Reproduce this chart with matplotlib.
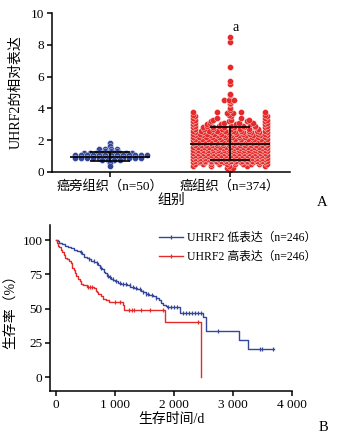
import matplotlib
matplotlib.use("Agg")
import matplotlib.pyplot as plt
import numpy as np
from matplotlib.lines import Line2D

plt.rcParams["font.family"] = ["Liberation Serif", "Noto Sans CJK SC"]

# ---- panel A: relative UHRF2 expression (dot levels and how many dots sit on each) ----
group_labels = ["癌旁组织（n=50）", "癌组织（n=374）"]
normal_levels = [1.85, 1.62, 1.46, 1.3, 1.2, 1.05, 0.9, 0.78, 0.65, 0.57, 0.38]
normal_counts = [1, 1, 4, 3, 9, 13, 12, 4, 1, 1, 1]
tumor_levels = [0.15, 0.25, 0.4, 0.5, 0.6, 0.7, 0.8, 0.9, 1.0, 1.1, 1.2, 1.3, 1.4,
                1.5, 1.6, 1.7, 1.8, 1.9, 2.0, 2.1, 2.2, 2.3, 2.4, 2.5, 2.6, 2.7,
                2.8, 2.9, 3.0, 3.1, 3.2, 3.3, 3.4, 3.5, 3.6, 3.7, 3.8, 3.9,
                4.04, 4.29, 4.37, 4.44, 4.53, 4.84, 4.9, 5.54, 5.73, 6.59, 8.17, 8.48]
tumor_counts = [1, 2, 5, 10, 13, 15, 15, 15, 15, 15, 15, 15, 15,
                14, 14, 14, 13, 13, 13, 12, 12, 11, 11, 10, 10, 9,
                8, 7, 6, 6, 5, 5, 4, 3, 3, 2, 4, 1,
                1, 1, 1, 1, 3, 1, 1, 1, 1, 1, 1, 1]
group_means = [0.97, 1.79]
group_sds = [0.26, 1.05]

# ---- panel B: Kaplan-Meier curves ----
low_time = [0, 30, 60, 100, 150, 200, 260, 300, 350, 400, 440, 480, 520, 560, 600,
            650, 690, 720, 750, 780, 810, 840, 870, 900, 940, 970, 1000, 1050, 1100,
            1200, 1260, 1320, 1380, 1440, 1480, 1520, 1580, 1640, 1700, 1740, 1780,
            1820, 1860, 1880, 2100, 2490, 2540, 3100, 3250, 3700]
low_surv = [100, 99, 98, 97, 96, 95, 94, 93, 92, 91, 90, 88, 87, 86, 85,
            84, 83, 82, 80, 79, 77, 76, 74, 73, 72, 71, 70, 69, 68,
            67, 66, 65, 64, 63, 62, 61, 60, 59, 58, 56, 54,
            53, 52, 51, 47, 44, 34, 27, 20.5, 20.5]
low_censor = [420, 560, 640, 700, 760, 880, 920, 960, 1010, 1080, 1130, 1190, 1250,
              1300, 1350, 1420, 1480, 1530, 1560, 1620, 1700, 1900, 1950, 2000, 2050,
              2150, 2200, 2260, 2300, 2350, 2400, 2450, 2750, 3450, 3490, 3680]
high_time = [0, 20, 40, 60, 80, 100, 130, 160, 190, 230, 260, 280, 300, 320, 340,
             370, 400, 430, 460, 520, 650, 680, 700, 720, 760, 800, 850, 900, 1130,
             1150, 1850, 2460]
high_surv = [100, 98, 96, 95, 93, 91, 89, 87, 86, 85, 83, 80, 78, 76, 74,
             72, 70, 68, 67, 66, 65, 63, 62, 61, 59, 57, 56, 55, 53,
             49, 40, 0]
high_censor = [540, 580, 620, 1000, 1090, 1230, 1290, 1330, 1440, 1590, 1820, 2400]
legend_labels = ["UHRF2 低表达（n=246）", "UHRF2 高表达（n=246）"]

BLUE = "#34479a"
RED = "#e52a2a"


def row_layout(center, levels, counts, dx, spread_upto=None, max_n=15):
    # rows of dots; rows below spread_upto are stretched to the full block width
    xs, ys = [], []
    for i, (lv, n) in enumerate(zip(levels, counts)):
        step = dx
        if spread_upto is not None and lv < spread_upto and n >= 3:
            step = dx * (max_n - 1) / (n - 1)
        shift = dx * 0.25 * (1 if i % 2 else -1) if n >= 3 else 0.0
        off = (np.arange(n) - (n - 1) / 2.0) * step
        xs.extend(center + off + shift)
        ys.extend([lv] * n)
    return np.array(xs), np.array(ys)


def surv_at(times, surv, t):
    idx = np.searchsorted(times, t, side="right") - 1
    return np.array(surv)[idx]


def style_axes(ax):
    for side in ["top", "right"]:
        ax.spines[side].set_visible(False)
    for side in ["left", "bottom"]:
        ax.spines[side].set_linewidth(1.1)
    ax.tick_params(direction="out", length=3.5, width=1.1, labelsize=9.5, pad=2)


fig = plt.figure(figsize=(3.42, 4.40), dpi=100)

# panel A
axA = fig.add_axes([52 / 342, 1 - 172 / 440, 238 / 342, 159 / 440])
panels = [(normal_levels, normal_counts, BLUE, 0.05, None),
          (tumor_levels, tumor_counts, RED, 0.043, 4.0)]
for gi, (lv, ct, col, dx, spread) in enumerate(panels):
    xs, ys = row_layout(gi, lv, ct, dx, spread_upto=spread)
    axA.scatter(xs, ys, s=19, color=col, edgecolors="white", linewidths=0.25, zorder=2)
    m, sd = group_means[gi], group_sds[gi]
    axA.hlines(m, gi - 0.33, gi + 0.33, color="black", lw=1.2, zorder=3)
    axA.hlines([m - sd, m + sd], gi - 0.17, gi + 0.17, color="black", lw=1.2, zorder=3)
    axA.vlines(gi, m - sd, m + sd, color="black", lw=1.2, zorder=3)
axA.text(1.05, 9.1, "a", ha="center", va="center", fontsize=10)
axA.set_xlim(-0.483, 1.5)
axA.set_ylim(0, 10)
axA.set_yticks([0, 2, 4, 6, 8, 10])
axA.set_xticks([0, 1])
axA.set_xticklabels(group_labels)
axA.set_ylabel("UHRF2的相对表达", fontsize=10, labelpad=6)
axA.set_xlabel("组别", fontsize=10, labelpad=1)
style_axes(axA)
axA.tick_params(axis="x", labelsize=9.5)

# panel B
axB = fig.add_axes([50 / 342, 1 - 391 / 440, 242 / 342, 166 / 440])
for t, s, cens, col in [(low_time, low_surv, low_censor, BLUE),
                        (high_time, high_surv, high_censor, RED)]:
    axB.step(t, s, where="post", color=col, lw=1.0)
    axB.plot(cens, surv_at(t, s, cens), ls="none", marker="|", ms=3.5,
             mew=0.9, color=col)
axB.set_xlim(-100, 4000)
axB.set_ylim(-10, 111)
axB.set_xticks([0, 1000, 2000, 3000, 4000])
axB.set_xticklabels(["0", "1 000", "2 000", "3 000", "4 000"])
axB.set_yticks([0, 25, 50, 75, 100])
axB.set_xlabel("生存时间/d", fontsize=10, labelpad=2)
axB.set_ylabel("生存率（%）", fontsize=10, labelpad=4)
style_axes(axB)
handles = [Line2D([], [], color=BLUE, lw=1.0, marker="|", ms=3.5, mew=0.9),
           Line2D([], [], color=RED, lw=1.0, marker="|", ms=3.5, mew=0.9)]
axB.legend(handles, legend_labels, loc="upper left", bbox_to_anchor=(0.45, 0.96),
           frameon=False, fontsize=8.5, handlelength=2.0, handletextpad=0.4,
           borderaxespad=0, borderpad=0, labelspacing=0.6)

fig.text(322 / 342, 1 - 202 / 440, "A", ha="center", va="center", fontsize=10.5)
fig.text(323 / 342, 1 - 427 / 440, "B", ha="center", va="center", fontsize=10.5)

fig.savefig("out.png", dpi=100)
plt.close(fig)
